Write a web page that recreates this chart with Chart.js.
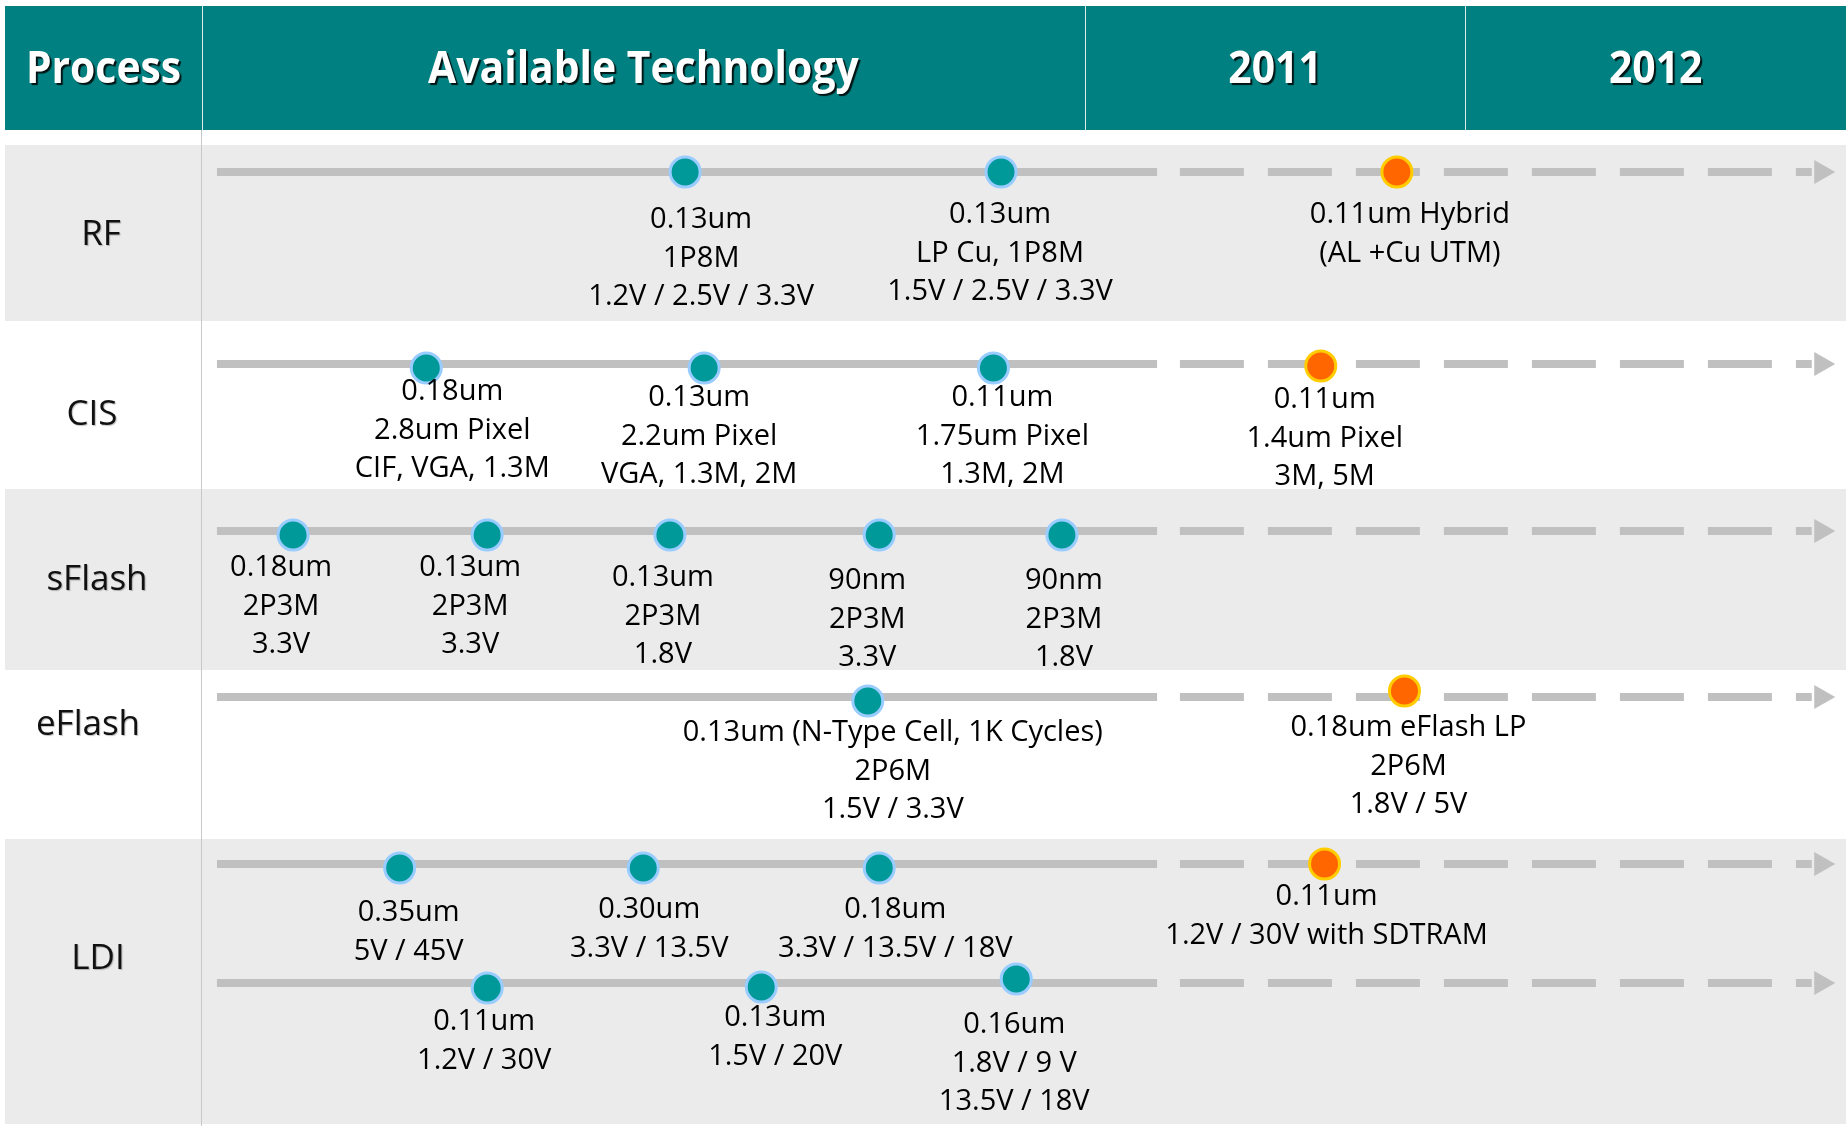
<!DOCTYPE html>
<html>
<head>
<meta charset="utf-8">
<script src="https://cdn.jsdelivr.net/npm/chart.js@4/dist/chart.umd.min.js"></script>
<style>
  html, body { margin: 0; padding: 0; background: #fff; overflow: hidden; }
  canvas { display: block; }
</style>
</head>
<body>
<canvas id="roadmap" width="1846" height="1126"></canvas>
<script>
// ---------------------------------------------------------------
// Data
// ---------------------------------------------------------------
const headerLabels = ["Process", "Available Technology", "2011", "2012"];
const yearMarks    = [2011, 2012];
const processes    = ["RF", "CIS", "sFlash", "eFlash", "LDI"];

// each timeline track belongs to one process (LDI has two)
const trackProcess = [0, 1, 2, 3, 4, 4];

// milestones: track, position on the time axis, planned (orange) or available (teal)
const msTrack   = [0, 0, 0,   1, 1, 1, 1,   2, 2, 2, 2, 2,   3, 3,   4, 4, 4, 4,   5, 5, 5];
const msYear    = [2009.95, 2010.78, 2011.82,
                   2009.27, 2010.00, 2010.76, 2011.62,
                   2008.92, 2009.43, 2009.91, 2010.46, 2010.94,
                   2010.43, 2011.84,
                   2009.20, 2009.84, 2010.46, 2011.63,
                   2009.43, 2010.15, 2010.82];
const msPlanned = [0, 0, 1,   0, 0, 0, 1,   0, 0, 0, 0, 0,   0, 1,   0, 0, 0, 1,   0, 0, 0];
const msLabel = [
  ["0.13um", "1P8M", "1.2V / 2.5V / 3.3V"],
  ["0.13um", "LP Cu, 1P8M", "1.5V / 2.5V / 3.3V"],
  ["0.11um Hybrid", "(AL +Cu UTM)"],
  ["0.18um", "2.8um Pixel", "CIF, VGA, 1.3M"],
  ["0.13um", "2.2um Pixel", "VGA, 1.3M, 2M"],
  ["0.11um", "1.75um Pixel", "1.3M, 2M"],
  ["0.11um", "1.4um Pixel", "3M, 5M"],
  ["0.18um", "2P3M", "3.3V"],
  ["0.13um", "2P3M", "3.3V"],
  ["0.13um", "2P3M", "1.8V"],
  ["90nm", "2P3M", "3.3V"],
  ["90nm", "2P3M", "1.8V"],
  ["0.13um (N-Type Cell, 1K Cycles)", "2P6M", "1.5V / 3.3V"],
  ["0.18um eFlash LP", "2P6M", "1.8V / 5V"],
  ["0.35um", "5V / 45V"],
  ["0.30um", "3.3V / 13.5V"],
  ["0.18um", "3.3V / 13.5V / 18V"],
  ["0.11um", "1.2V / 30V with SDTRAM"],
  ["0.11um", "1.2V / 30V"],
  ["0.13um", "1.5V / 20V"],
  ["0.16um", "1.8V / 9 V", "13.5V / 18V"]
];

// timeline extent on the time axis
const lineStart = 2008.72, solidEnd = 2011.19, dashStart = 2011.25, dashEnd = 2012.91, arrowAt = 2012.935;

// ---------------------------------------------------------------
// Layout (pixels)
// ---------------------------------------------------------------
const W = 1846, H = 1126;
const X_MIN = 2008.15, X_MAX = 2013.0;
const headerBox  = { top: 6, bottom: 130, left: 5 };
const processColX = 201;
const rowBands   = [[145, 321], [321, 489], [489, 670], [670, 839], [839, 1124]];
const rowShaded  = [true, false, true, false, true];
const rowLabelXY = [[101, 235], [92, 415], [97, 580], [88, 725], [98, 959]];
const laneY      = [172, 364, 531, 697, 864, 983];
// markers sit a few pixels off their track in the original
const markerDy   = [0, 0, 0,  4, 4, 4, 2,  4, 4, 4, 4, 4,  4, -6,  4, 4, 4, 0,  5, 4, -4];
const labelDx    = [16, -1, 13,  26, -5, 9, 4,  -12, -17, -7, -12, 2,  25, 4,  9, 6, 16, 2,  -3, 14, -2];
const labelDy    = [48, 43, 43,  28, 34, 34, 36,  37, 37, 47, 50, 50,  36, 31,  49, 46, 46, 33,  39, 35, 42];
const lineGap    = 38.5;

const TEAL = "#008080", LINE = "#c0c0c0", BAND = "#ebebeb";
const FONT = "'Open Sans', 'Noto Sans', sans-serif";

// ---------------------------------------------------------------
// Background, header and text plugin
// ---------------------------------------------------------------
const roadmapPlugin = {
  id: "roadmap",
  beforeDatasetsDraw(chart) {
    const ctx = chart.ctx;
    const xs = chart.scales.x;
    ctx.save();
    ctx.fillStyle = "#fff";
    ctx.fillRect(0, 0, W, H);

    // row bands
    rowBands.forEach((b, i) => {
      if (!rowShaded[i]) return;
      ctx.fillStyle = BAND;
      ctx.fillRect(headerBox.left, b[0], W - headerBox.left, b[1] - b[0]);
    });

    // process column separator
    ctx.strokeStyle = "#c8c8c8";
    ctx.lineWidth = 1;
    ctx.beginPath();
    ctx.moveTo(processColX + 0.5, headerBox.bottom);
    ctx.lineTo(processColX + 0.5, H);
    ctx.stroke();

    // header bar
    ctx.fillStyle = TEAL;
    ctx.fillRect(headerBox.left, headerBox.top, W - headerBox.left, headerBox.bottom - headerBox.top);
    const bounds = [headerBox.left, processColX + 1, ...yearMarks.map(y => xs.getPixelForValue(y)), W];
    ctx.strokeStyle = "rgba(255,255,255,0.85)";
    for (let i = 1; i < bounds.length - 1; i++) {
      ctx.beginPath();
      ctx.moveTo(Math.round(bounds[i]) + 0.5, headerBox.top);
      ctx.lineTo(Math.round(bounds[i]) + 0.5, headerBox.bottom);
      ctx.stroke();
    }
    ctx.font = "bold 43px " + FONT;
    ctx.textAlign = "center";
    ctx.textBaseline = "middle";
    ctx.shadowColor = "rgba(0,0,0,0.85)";
    ctx.shadowOffsetX = 2;
    ctx.shadowOffsetY = 2;
    ctx.shadowBlur = 1;
    ctx.fillStyle = "#fff";
    headerLabels.forEach((t, i) => {
      const cx = (bounds[i] + bounds[i + 1]) / 2;
      ctx.save();
      ctx.translate(cx, (headerBox.top + headerBox.bottom) / 2 + 2);
      ctx.scale(0.95, 1.05);
      ctx.fillText(t, 0, 0);
      ctx.restore();
    });

    // process names
    ctx.font = "35px " + FONT;
    ctx.shadowColor = "rgba(0,0,0,0.25)";
    ctx.shadowOffsetX = 1;
    ctx.shadowOffsetY = 1;
    ctx.fillStyle = "#111";
    processes.forEach((p, i) => ctx.fillText(p, rowLabelXY[i][0], rowLabelXY[i][1]));
    ctx.restore();
  },
  afterDatasetsDraw(chart) {
    const ctx = chart.ctx;
    const xs = chart.scales.x, ys = chart.scales.y;
    ctx.save();
    ctx.font = "29px " + FONT;
    ctx.textAlign = "center";
    ctx.textBaseline = "middle";
    ctx.fillStyle = "#000";
    msLabel.forEach((lines, k) => {
      const cx = xs.getPixelForValue(msYear[k]) + labelDx[k];
      const y0 = ys.getPixelForValue(laneY[msTrack[k]]) + labelDy[k];
      lines.forEach((t, j) => ctx.fillText(t, cx, y0 + j * lineGap));
    });
    ctx.restore();
  }
};

// ---------------------------------------------------------------
// Datasets
// ---------------------------------------------------------------
const datasets = [];

datasets.push({
  type: "scatter",
  order: 1,
  data: msYear.map((x, k) => ({ x: x, y: laneY[msTrack[k]] + markerDy[k] })),
  pointRadius: 15,
  pointHoverRadius: 15,
  pointBorderWidth: 3,
  pointBackgroundColor: msPlanned.map(p => p ? "#ff6600" : "#009999"),
  pointBorderColor: msPlanned.map(p => p ? "#ffcc00" : "#99ccff"),
});

laneY.forEach(y => {
  datasets.push({
    type: "line", order: 2,
    data: [{ x: lineStart, y: y }, { x: solidEnd, y: y }],
    borderColor: LINE, borderWidth: 8, borderCapStyle: "butt",
    pointRadius: 0, fill: false,
  });
  datasets.push({
    type: "line", order: 2,
    data: [{ x: dashStart, y: y }, { x: dashEnd, y: y }],
    borderColor: LINE, borderWidth: 8, borderCapStyle: "butt",
    borderDash: [64, 24],
    pointRadius: 0, fill: false,
  });
  datasets.push({
    type: "scatter", order: 2,
    data: [{ x: arrowAt, y: y }],
    pointStyle: "triangle", rotation: 90,
    pointRadius: 14, pointHoverRadius: 14,
    pointBackgroundColor: LINE, pointBorderColor: LINE, pointBorderWidth: 0,
  });
});

new Chart(document.getElementById("roadmap"), {
  type: "scatter",
  data: { datasets },
  options: {
    responsive: false,
    animation: false,
    devicePixelRatio: 1,
    layout: { padding: 0, autoPadding: false },
    events: [],
    plugins: { legend: { display: false }, tooltip: { enabled: false } },
    scales: {
      x: { type: "linear", min: X_MIN, max: X_MAX, display: false },
      y: { type: "linear", min: 0, max: H, reverse: true, display: false },
    },
  },
  plugins: [roadmapPlugin],
});
</script>
</body>
</html>
